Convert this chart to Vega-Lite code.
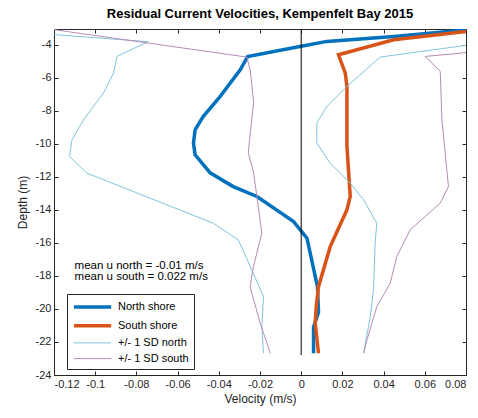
{
  "$schema": "https://vega.github.io/schema/vega-lite/v6.json",
  "width": 412,
  "height": 346,
  "autosize": "none",
  "padding": {"left": 54, "top": 29, "right": 12, "bottom": 43},
  "background": "white",
  "title": {"text": "Residual Current Velocities, Kempenfelt Bay 2015", "fontSize": 13, "fontWeight": "bold", "font": "Liberation Sans", "color": "black", "offset": 8},
  "config": {
    "view": {"stroke": null},
    "font": "Liberation Sans",
    "axis": {"grid": false, "domainColor": "#262626", "tickColor": "#262626", "labelColor": "#262626", "titleColor": "#262626", "labelFont": "Liberation Sans", "titleFont": "Liberation Sans", "labelFontSize": 11, "titleFontSize": 12, "titleFontWeight": "normal", "tickSize": -4, "domainWidth": 1, "tickWidth": 1},
    "legend": {"orient": "none", "legendX": 13, "legendY": 265, "strokeColor": "#262626", "fillColor": "white", "padding": 5, "cornerRadius": 0, "symbolType": "M-1,0H5.2", "symbolSize": 144, "labelOffset": 30, "labelFontSize": 11, "labelFont": "Liberation Sans", "labelColor": "black", "rowPadding": 3.7}
  },
  "datasets": {
    "lines": [
      {"series": "North shore", "side": "m", "depth": -3.1, "u": 0.08},
      {"series": "North shore", "side": "m", "depth": -3.5, "u": 0.045},
      {"series": "North shore", "side": "m", "depth": -3.8, "u": 0.0125},
      {"series": "North shore", "side": "m", "depth": -4.1, "u": 0.0},
      {"series": "North shore", "side": "m", "depth": -4.72, "u": -0.026},
      {"series": "North shore", "side": "m", "depth": -5.52, "u": -0.0296},
      {"series": "North shore", "side": "m", "depth": -7.13, "u": -0.0393},
      {"series": "North shore", "side": "m", "depth": -8.35, "u": -0.0476},
      {"series": "North shore", "side": "m", "depth": -9.15, "u": -0.0515},
      {"series": "North shore", "side": "m", "depth": -9.96, "u": -0.0523},
      {"series": "North shore", "side": "m", "depth": -10.67, "u": -0.0515},
      {"series": "North shore", "side": "m", "depth": -11.76, "u": -0.0442},
      {"series": "North shore", "side": "m", "depth": -12.59, "u": -0.033},
      {"series": "North shore", "side": "m", "depth": -13.19, "u": -0.0215},
      {"series": "North shore", "side": "m", "depth": -14.71, "u": -0.0037},
      {"series": "North shore", "side": "m", "depth": -15.72, "u": 0.0028},
      {"series": "North shore", "side": "m", "depth": -18.65, "u": 0.0079},
      {"series": "North shore", "side": "m", "depth": -20.2, "u": 0.0084},
      {"series": "North shore", "side": "m", "depth": -21.1, "u": 0.006},
      {"series": "North shore", "side": "m", "depth": -22.68, "u": 0.006},
      {"series": "South shore", "side": "m", "depth": -3.2, "u": 0.08},
      {"series": "South shore", "side": "m", "depth": -3.7, "u": 0.0449},
      {"series": "South shore", "side": "m", "depth": -4.61, "u": 0.0181},
      {"series": "South shore", "side": "m", "depth": -5.72, "u": 0.0214},
      {"series": "South shore", "side": "m", "depth": -6.53, "u": 0.0222},
      {"series": "South shore", "side": "m", "depth": -10.16, "u": 0.0222},
      {"series": "South shore", "side": "m", "depth": -13.19, "u": 0.0238},
      {"series": "South shore", "side": "m", "depth": -14.0, "u": 0.0222},
      {"series": "South shore", "side": "m", "depth": -16.22, "u": 0.0141},
      {"series": "South shore", "side": "m", "depth": -18.65, "u": 0.0084},
      {"series": "South shore", "side": "m", "depth": -19.86, "u": 0.0073},
      {"series": "South shore", "side": "m", "depth": -20.87, "u": 0.0068},
      {"series": "South shore", "side": "m", "depth": -22.68, "u": 0.0084},
      {"series": "+/- 1 SD north", "side": "lo", "depth": -3.39, "u": -0.12},
      {"series": "+/- 1 SD north", "side": "lo", "depth": -3.82, "u": -0.0743},
      {"series": "+/- 1 SD north", "side": "lo", "depth": -4.71, "u": -0.0894},
      {"series": "+/- 1 SD north", "side": "lo", "depth": -5.72, "u": -0.0911},
      {"series": "+/- 1 SD north", "side": "lo", "depth": -6.93, "u": -0.096},
      {"series": "+/- 1 SD north", "side": "lo", "depth": -8.55, "u": -0.1057},
      {"series": "+/- 1 SD north", "side": "lo", "depth": -9.76, "u": -0.1113},
      {"series": "+/- 1 SD north", "side": "lo", "depth": -10.77, "u": -0.1125},
      {"series": "+/- 1 SD north", "side": "lo", "depth": -11.78, "u": -0.104},
      {"series": "+/- 1 SD north", "side": "lo", "depth": -14.81, "u": -0.0426},
      {"series": "+/- 1 SD north", "side": "lo", "depth": -15.82, "u": -0.0305},
      {"series": "+/- 1 SD north", "side": "lo", "depth": -17.64, "u": -0.024},
      {"series": "+/- 1 SD north", "side": "lo", "depth": -19.25, "u": -0.0183},
      {"series": "+/- 1 SD north", "side": "lo", "depth": -21.07, "u": -0.0191},
      {"series": "+/- 1 SD north", "side": "lo", "depth": -22.68, "u": -0.0183},
      {"series": "+/- 1 SD north", "side": "hi", "depth": -4.04, "u": 0.08},
      {"series": "+/- 1 SD north", "side": "hi", "depth": -4.75, "u": 0.0383},
      {"series": "+/- 1 SD north", "side": "hi", "depth": -6.53, "u": 0.0222},
      {"series": "+/- 1 SD north", "side": "hi", "depth": -7.74, "u": 0.0125},
      {"series": "+/- 1 SD north", "side": "hi", "depth": -8.75, "u": 0.0076},
      {"series": "+/- 1 SD north", "side": "hi", "depth": -9.96, "u": 0.0076},
      {"series": "+/- 1 SD north", "side": "hi", "depth": -11.17, "u": 0.0141},
      {"series": "+/- 1 SD north", "side": "hi", "depth": -12.38, "u": 0.0238},
      {"series": "+/- 1 SD north", "side": "hi", "depth": -13.39, "u": 0.0303},
      {"series": "+/- 1 SD north", "side": "hi", "depth": -14.81, "u": 0.0367},
      {"series": "+/- 1 SD north", "side": "hi", "depth": -16.02, "u": 0.0359},
      {"series": "+/- 1 SD north", "side": "hi", "depth": -18.85, "u": 0.0351},
      {"series": "+/- 1 SD north", "side": "hi", "depth": -20.47, "u": 0.0335},
      {"series": "+/- 1 SD north", "side": "hi", "depth": -22.68, "u": 0.0303},
      {"series": "+/- 1 SD south", "side": "lo", "depth": -3.09, "u": -0.12},
      {"series": "+/- 1 SD south", "side": "lo", "depth": -4.75, "u": -0.0264},
      {"series": "+/- 1 SD south", "side": "lo", "depth": -5.52, "u": -0.0248},
      {"series": "+/- 1 SD south", "side": "lo", "depth": -7.45, "u": -0.0231},
      {"series": "+/- 1 SD south", "side": "lo", "depth": -10.55, "u": -0.0257},
      {"series": "+/- 1 SD south", "side": "lo", "depth": -11.64, "u": -0.0233},
      {"series": "+/- 1 SD south", "side": "lo", "depth": -13.19, "u": -0.0215},
      {"series": "+/- 1 SD south", "side": "lo", "depth": -15.41, "u": -0.0191},
      {"series": "+/- 1 SD south", "side": "lo", "depth": -17.44, "u": -0.0232},
      {"series": "+/- 1 SD south", "side": "lo", "depth": -18.65, "u": -0.0248},
      {"series": "+/- 1 SD south", "side": "lo", "depth": -20.87, "u": -0.0199},
      {"series": "+/- 1 SD south", "side": "lo", "depth": -22.68, "u": -0.015},
      {"series": "+/- 1 SD south", "side": "hi", "depth": -4.48, "u": 0.08},
      {"series": "+/- 1 SD south", "side": "hi", "depth": -4.71, "u": 0.0602},
      {"series": "+/- 1 SD south", "side": "hi", "depth": -5.62, "u": 0.0675},
      {"series": "+/- 1 SD south", "side": "hi", "depth": -8.55, "u": 0.0683},
      {"series": "+/- 1 SD south", "side": "hi", "depth": -11.58, "u": 0.0707},
      {"series": "+/- 1 SD south", "side": "hi", "depth": -12.59, "u": 0.0715},
      {"series": "+/- 1 SD south", "side": "hi", "depth": -13.59, "u": 0.0675},
      {"series": "+/- 1 SD south", "side": "hi", "depth": -15.21, "u": 0.0529},
      {"series": "+/- 1 SD south", "side": "hi", "depth": -16.83, "u": 0.0464},
      {"series": "+/- 1 SD south", "side": "hi", "depth": -18.44, "u": 0.0432},
      {"series": "+/- 1 SD south", "side": "hi", "depth": -19.86, "u": 0.0367},
      {"series": "+/- 1 SD south", "side": "hi", "depth": -21.88, "u": 0.0319},
      {"series": "+/- 1 SD south", "side": "hi", "depth": -22.68, "u": 0.0303}
    ],
    "zero": [{"u": 0, "top": -3.05, "bottom": -22.8}],
    "notes": [
      {"u": -0.11, "depth": -17.39, "label": "mean u north = -0.01 m/s"},
      {"u": -0.11, "depth": -18.08, "label": "mean u south = 0.022 m/s"}
    ]
  },
  "layer": [
    {
      "data": {"name": "lines"},
      "mark": {"type": "line", "clip": true, "strokeCap": "butt"},
      "encoding": {
        "x": {"field": "u", "type": "quantitative", "scale": {"domain": [-0.12, 0.08], "nice": false, "zero": false},
              "axis": {"orient": "bottom", "title": "Velocity (m/s)", "values": [-0.12, -0.1, -0.08, -0.06, -0.04, -0.02, 0, 0.02, 0.04, 0.06, 0.08], "labelExpr": "datum.value + ''", "labelPadding": 7, "titlePadding": 4}},
        "y": {"field": "depth", "type": "quantitative", "scale": {"domain": [-24, -3.05], "nice": false, "zero": false},
              "axis": {"orient": "left", "title": "Depth (m)", "values": [-24, -22, -20, -18, -16, -14, -12, -10, -8, -6, -4], "labelExpr": "datum.value + ''", "labelPadding": 7, "titlePadding": 6}},
        "color": {"field": "series", "type": "nominal", "title": null,
                  "scale": {"domain": ["North shore", "South shore", "+/- 1 SD north", "+/- 1 SD south"], "range": ["#0072BD", "#D95319", "#80C4E0", "#B98BB4"]}},
        "strokeWidth": {"field": "series", "type": "nominal", "title": null,
                        "scale": {"type": "ordinal", "domain": ["North shore", "South shore", "+/- 1 SD north", "+/- 1 SD south"], "range": [3.5, 3.5, 1, 1]}},
        "detail": {"field": "side", "type": "nominal"},
        "order": {"field": "depth", "type": "quantitative"}
      }
    },
    {
      "data": {"name": "zero"},
      "mark": {"type": "rule", "color": "black", "strokeWidth": 1},
      "encoding": {
        "x": {"field": "u", "type": "quantitative", "scale": {"domain": [-0.12, 0.08], "nice": false, "zero": false},
              "axis": {"orient": "top", "title": null, "labels": false, "values": [-0.12, -0.1, -0.08, -0.06, -0.04, -0.02, 0, 0.02, 0.04, 0.06, 0.08]}},
        "y": {"field": "top", "type": "quantitative", "scale": {"domain": [-24, -3.05], "nice": false, "zero": false},
              "axis": {"orient": "right", "title": null, "labels": false, "values": [-24, -22, -20, -18, -16, -14, -12, -10, -8, -6, -4]}},
        "y2": {"field": "bottom"}
      }
    },
    {
      "data": {"name": "notes"},
      "mark": {"type": "text", "align": "left", "baseline": "middle", "fontSize": 11.5, "font": "Liberation Sans", "color": "black"},
      "encoding": {
        "x": {"field": "u", "type": "quantitative", "axis": null},
        "y": {"field": "depth", "type": "quantitative", "axis": null},
        "text": {"field": "label", "type": "nominal"}
      }
    }
  ],
  "resolve": {"axis": {"x": "independent", "y": "independent"}}
}
